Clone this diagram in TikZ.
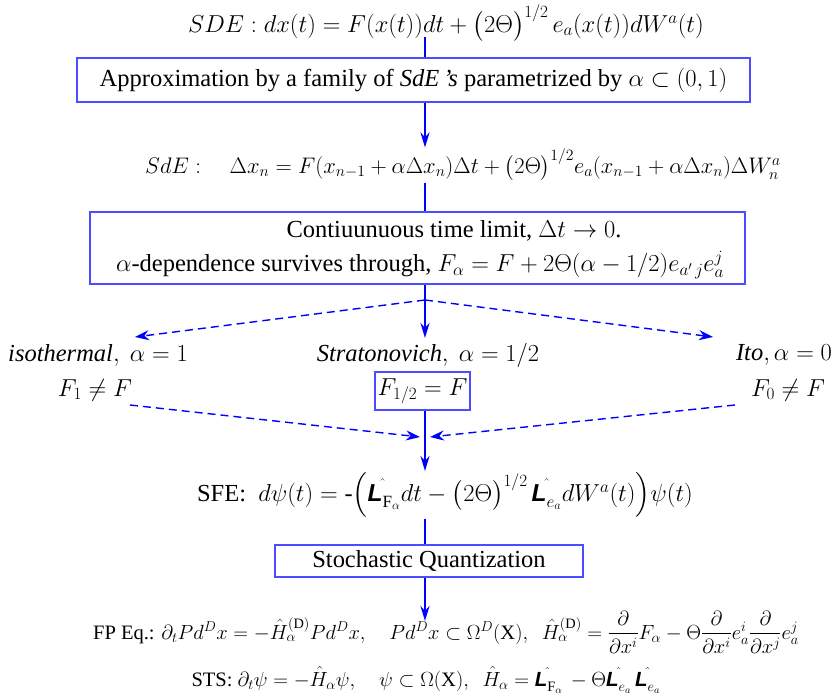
\RequirePackage{fix-cm}
\documentclass[tikz,border=0pt]{standalone}
\usepackage{amsmath}
\usepackage{fontspec}
\setmainfont{Liberation Serif}
\newfontfamily\lsans{Liberation Sans}
\usetikzlibrary{arrows.meta,calc}
\definecolor{lb}{RGB}{75,75,255}
\newcommand{\Lh}{{\text{\lsans\bfseries\itshape L}}^{\hat{}}}
\begin{document}
\begin{tikzpicture}[x=1pt,y=-1pt,
  flow/.style={draw=blue, line width=2.4pt, -{Stealth[length=15pt,width=9pt]}},
  plain/.style={draw=blue, line width=2.4pt},
  dflow/.style={draw=blue, line width=1.4pt, dash pattern=on 8pt off 5pt, -{Stealth[length=14pt,width=10pt]}},
  boxb/.style={draw=lb, line width=1.1pt, inner sep=0pt, fill=white},
  eq/.style={inner sep=1pt},
  big/.style={font=\fontsize{24.5}{28}\selectfont},
  mid/.style={font=\fontsize{22.5}{26}\selectfont},
  small/.style={font=\fontsize{20.5}{24}\selectfont}]
\useasboundingbox (0,0) rectangle (833,700);
\coordinate (c) at (425,0);
% top equation
\node[eq,big] (top) at (446,23) {$SDE : dx(t) = F(x(t))dt + \bigl(2\Theta\bigr)^{1/2}\, e_a(x(t))dW^a(t)$};
% box 1
\node[boxb,big,minimum width=673,minimum height=44] (box1) at (413.5,80)
  {Approximation by a family of \textit{SdE\,'s} parametrized by $\alpha\subset(0,1)$};
% SdE equation
\node[eq,mid] (sde) at (463,165) {$SdE:\quad \Delta x_n = F(x_{n-1}+\alpha\Delta x_n)\Delta t + \bigl(2\Theta\bigr)^{1/2} e_a(x_{n-1}+\alpha\Delta x_n)\Delta W_n^a$};
% box 2
\node[boxb,minimum width=655,minimum height=72] (box2) at (417.5,248) {};
\node[eq,big] (l1) at (454,231) {Contiuunuous time limit, $\Delta t\to 0$.};
\node[eq,big] (l2) at (420,265) {$\alpha$-dependence survives through, $F_\alpha = F + 2\Theta(\alpha-1/2)e_{a'\,j}e_a^j$};
% branch labels
\node[eq,big] (iso) at (98,355) {$\mathit{isothermal},\ \alpha=1$};
\node[eq,big] (strat) at (428,355) {$\mathit{Stratonovich},\ \alpha=1/2$};
\node[eq,big] (ito) at (784,355) {$\mathit{Ito},\alpha=0$};
\node[eq,big] (f1) at (95,390) {$F_1\neq F$};
\node[boxb,big,minimum width=95,minimum height=38] (fbox) at (422.5,391) {$F_{1/2}=F$};
\node[eq,big] (f0) at (788,390) {$F_0\neq F$};
% SFE
\node[eq,big] (sfe) at (445,495) {SFE:\ \ $d\psi(t) = \text{-}\Bigl(\Lh_{\mathrm{F}_\alpha} dt - \bigl(2\Theta\bigr)^{1/2}\,\Lh_{e_a} dW^a(t)\Bigr)\psi(t)$};
% box 3
\node[boxb,big,minimum width=308,minimum height=32] (box3) at (429,561) {Stochastic Quantization};
% bottom equations
\node[eq,small] (fp) at (446,632) {FP Eq.: $\partial_t Pd^Dx = -\hat H^{(\mathrm{D})}_\alpha Pd^Dx,\quad Pd^Dx\subset\Omega^D(\mathrm{X}),\ \ \hat H^{(\mathrm{D})}_\alpha = \dfrac{\partial}{\partial x^i}F_\alpha - \Theta\dfrac{\partial}{\partial x^i}e_a^i\dfrac{\partial}{\partial x^j}e_a^j$};
\node[eq,small] (sts) at (426,680) {STS: $\partial_t\psi = -\hat H_\alpha\psi,\quad \psi\subset\Omega(\mathrm{X}),\ \ \hat H_\alpha = \Lh_{\mathrm{F}_\alpha}\, - \Theta\Lh_{e_a}\,\Lh_{e_a}$};
% connectors
\coordinate (t1) at (425,37);
\coordinate (fork) at (425,300);
\coordinate (tipL) at (135,337);
\coordinate (tipR) at (713,337);
\coordinate (sL) at (130,405);
\coordinate (sR) at (735,405);
\coordinate (mL) at (420,437);
\coordinate (mR) at (430,437);
\coordinate (tipS) at (425,338);
\coordinate (tipSFE) at (425,471);
\coordinate (tipFP) at (425,621);
\draw[plain] (t1) -- (box1.north -| c);
\draw[flow] (box1.south -| c) -- (sde.north -| c);
\draw[plain] (sde.south -| c) -- (box2.north -| c);
\draw[flow] (box2.south -| c) -- (tipS);
\draw[dflow] (fork) -- (tipL);
\draw[dflow] (fork) -- (tipR);
\draw[dflow] (sL) -- (mL);
\draw[dflow] (sR) -- (mR);
\draw[flow] (fbox.south -| c) -- (tipSFE);
\draw[plain] (sfe.south -| c) -- (box3.north -| c);
\draw[flow] (box3.south -| c) -- (tipFP);
\end{tikzpicture}
\end{document}
